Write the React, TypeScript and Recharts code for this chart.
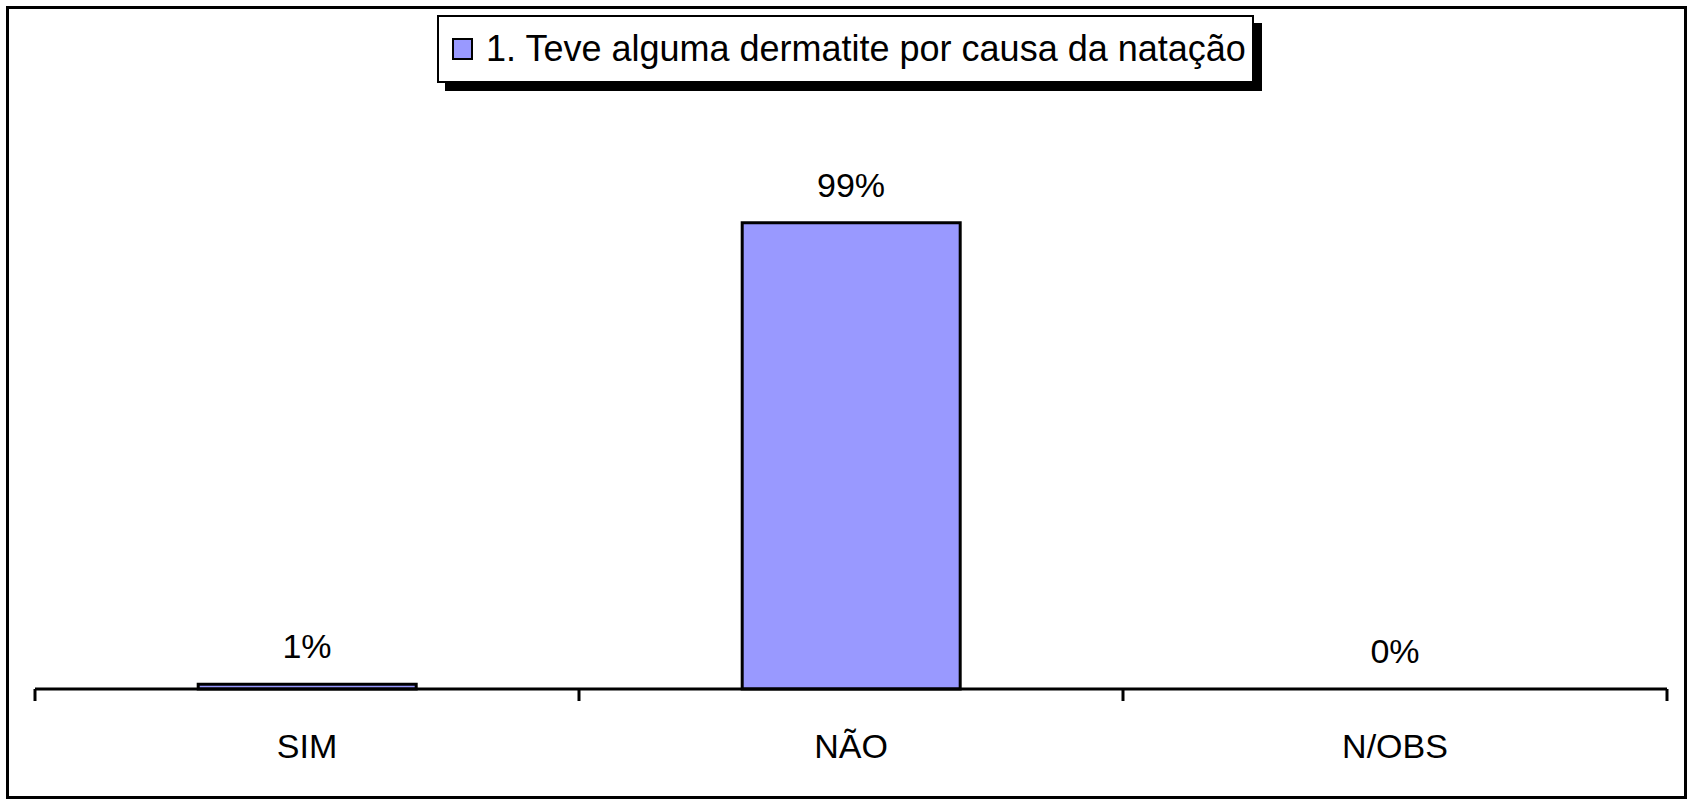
import React from 'react';
import { ComposedChart, Bar, Line, XAxis, YAxis, LabelList, Legend } from 'recharts';

const categories = ['SIM', 'NÃO', 'N/OBS'];
const values = [1, 99, 0];
const valueLabels = ['1%', '99%', '0%'];
const seriesName = '1. Teve alguma dermatite por causa da natação';

const data = categories.map((name, i) => ({ name, value: values[i], label: valueLabels[i] }));

const FONT = '"Liberation Sans", Arial, Helvetica, sans-serif';
const BAR_FILL = '#9999FF';
const CHART_W = 1690;
const MARGIN = { top: 218, right: 23, bottom: 115, left: 35 };

const renderLegend = (props: any) => {
  const items = (props.payload || []).filter((it: any) => it.type !== 'none' && it.value === seriesName);
  return (
    <div>
      {items.map((it: any, i: number) => (
        <div
          key={i}
          style={{
            boxSizing: 'border-box',
            width: 817,
            height: 68,
            border: '2px solid #000',
            background: '#fff',
            boxShadow: '8px 8px 0 #000',
            display: 'flex',
            alignItems: 'center',
            paddingLeft: 13,
            fontFamily: FONT,
            fontSize: 36,
            color: '#000',
            whiteSpace: 'nowrap',
          }}
        >
          <span
            style={{
              display: 'inline-block',
              boxSizing: 'border-box',
              width: 21,
              height: 22,
              background: BAR_FILL,
              border: '2px solid #000',
              marginRight: 13,
              flex: '0 0 auto',
            }}
          />
          <span style={{ lineHeight: '40px' }}>{it.value}</span>
        </div>
      ))}
    </div>
  );
};

const CategoryTick = (props: any) => {
  const { x, y, payload, index } = props;
  const fallbackHalf = (CHART_W - MARGIN.left - MARGIN.right) / categories.length / 2;
  const half = payload && typeof payload.offset === 'number' && payload.offset > 0 ? payload.offset : fallbackHalf;
  const left = x - half;
  const right = x + half;
  const isLast = index === categories.length - 1;
  return (
    <g>
      <line x1={left} x2={left} y1={y} y2={y + 12} stroke="#000" strokeWidth={3} />
      {isLast && <line x1={right} x2={right} y1={y} y2={y + 12} stroke="#000" strokeWidth={3} />}
      <text
        x={x}
        y={y + 45}
        dy="0.71em"
        textAnchor="middle"
        fontSize={34}
        fontFamily={FONT}
        fill="#000"
      >
        {payload.value}
      </text>
    </g>
  );
};

export default function App() {
  return (
    <div style={{ position: 'absolute', left: 0, top: 0, width: 1690, height: 805, background: '#fff', fontFamily: FONT }}>
      <div
        style={{
          position: 'absolute',
          left: 6,
          top: 6,
          width: 1681,
          height: 793,
          boxSizing: 'border-box',
          border: '3px solid #000',
        }}
      />
      <div style={{ position: 'absolute', left: 0, top: 0 }}>
        <ComposedChart
          width={CHART_W}
          height={805}
          data={data}
          margin={MARGIN}
          barCategoryGap="30%"
        >
          <YAxis hide domain={[0, 100]} />
          <XAxis
            dataKey="name"
            axisLine={{ stroke: '#000', strokeWidth: 3 }}
            tickLine={false}
            tickSize={0}
            tickMargin={0}
            height={1}
            interval={0}
            tick={<CategoryTick />}
          />
          <Legend
            layout="horizontal"
            verticalAlign="middle"
            align="center"
            wrapperStyle={{ left: 437, top: 15, width: 830 }}
            content={renderLegend}
          />
          <Bar
            dataKey="value"
            name={seriesName}
            fill={BAR_FILL}
            stroke="#000"
            strokeWidth={3}
            isAnimationActive={false}
          />
          <Line
            dataKey="value"
            name="labels"
            legendType="none"
            stroke="none"
            dot={false}
            activeDot={false}
            isAnimationActive={false}
          >
            <LabelList dataKey="label" position="top" offset={26} fill="#000" fontSize={34} fontFamily={FONT} />
          </Line>
        </ComposedChart>
      </div>
    </div>
  );
}
